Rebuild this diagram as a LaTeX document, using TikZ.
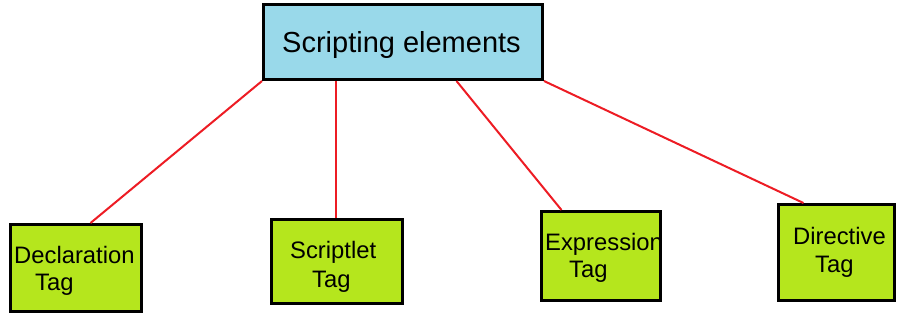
\documentclass[tikz,border=0pt]{standalone}
\usepackage{fontspec}
\setmainfont{Liberation Sans}
\definecolor{boxblue}{HTML}{99D9EA}
\definecolor{boxlime}{HTML}{B5E61D}
\definecolor{linkred}{HTML}{ED1C24}
\begin{document}
\begin{tikzpicture}[x=1pt,y=-1pt,
  boxshape/.style={draw=black,line width=3pt,rectangle,inner sep=0pt},
  txt/.style={inner sep=0pt,anchor=base west,font=\fontsize{23.8}{28}\selectfont},
  link/.style={draw=linkred,line width=2pt}]
\useasboundingbox (0,0) rectangle (897,317);
% boxes
\node[boxshape,fill=boxblue,minimum width=279pt,minimum height=75pt] (top) at (403,42) {};
\node[boxshape,fill=boxlime,minimum width=131pt,minimum height=87pt] (decl) at (76,268) {};
\node[boxshape,fill=boxlime,minimum width=131pt,minimum height=84pt] (scr) at (337,261.5) {};
\node[boxshape,fill=boxlime,minimum width=119pt,minimum height=89pt] (expr) at (601,256) {};
\node[boxshape,fill=boxlime,minimum width=116pt,minimum height=96pt] (dir) at (836.5,252.5) {};
% texts
\node[inner sep=0pt,anchor=base west,font=\fontsize{29}{34}\selectfont] (ttop) at (282,52) {Scripting elements};
\node[txt] (tdecl) at (14,263) {Declaration};
\node[txt] (tdecltag) at (35,290) {Tag};
\node[txt] (tscr) at (290,258) {Scriptlet};
\node[txt] (tscrtag) at (312,287) {Tag};
\node[txt] (texpr) at (545,250) {Expression};
\node[txt] (texprtag) at (569,277) {Tag};
\node[txt] (tdir) at (793,244) {Directive};
\node[txt] (tdirtag) at (815,272) {Tag};
% connectors
\draw[link] (top.south west) -- ([xshift=81.5pt]decl.north west);
\draw[link] ([xshift=73.5pt]top.south west) -- ([xshift=65.5pt]scr.north west);
\draw[link] ([xshift=194.5pt]top.south west) -- ([xshift=21.5pt]expr.north west);
\draw[link] (top.south east) -- ([xshift=26.5pt]dir.north west);
\end{tikzpicture}
\end{document}
